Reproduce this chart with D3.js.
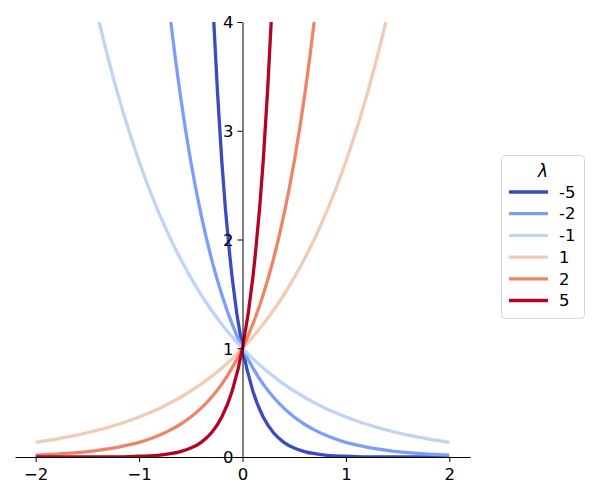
<!DOCTYPE html>
<html>
<head>
<meta charset="utf-8">
<script src="https://cdn.jsdelivr.net/npm/d3@7"></script>
<style>
  body { margin: 0; background: #fff; }
  text { font-family: "DejaVu Sans", sans-serif; }
</style>
</head>
<body>
<div id="chart"></div>
<script>
// sample x positions
var xs = [-2.0, -1.9, -1.8, -1.7, -1.6, -1.5, -1.4, -1.3, -1.2, -1.1,
          -1.0, -0.9, -0.8, -0.7, -0.6, -0.5, -0.4, -0.3, -0.2, -0.1,
           0.0,  0.1,  0.2,  0.3,  0.4,  0.5,  0.6,  0.7,  0.8,  0.9,
           1.0,  1.1,  1.2,  1.3,  1.4,  1.5,  1.6,  1.7,  1.8,  1.9, 2.0];

var lambdas = ["-5", "-2", "-1", "1", "2", "5"];

// values read per curve (null = off the top of the plot)
var yNeg5 = [null, null, null, null, null, null, null, null, null, null,
             null, null, null, null, null, null, 7.389, 4.482, 2.718, 1.649,
             1.000, 0.607, 0.368, 0.223, 0.135, 0.082, 0.050, 0.030, 0.018, 0.011,
             0.007, 0.004, 0.002, 0.0015, 0.001, 0.0006, 0.0003, 0.0002, 0.0001, 0.0001, 0.0];
var yNeg2 = [null, null, null, null, null, null, null, null, null, 9.025,
             7.389, 6.050, 4.953, 4.055, 3.320, 2.718, 2.226, 1.822, 1.492, 1.221,
             1.000, 0.819, 0.670, 0.549, 0.449, 0.368, 0.301, 0.247, 0.202, 0.165,
             0.135, 0.111, 0.091, 0.074, 0.061, 0.050, 0.041, 0.033, 0.027, 0.022, 0.018];
var yNeg1 = [7.389, 6.686, 6.050, 5.474, 4.953, 4.482, 4.055, 3.669, 3.320, 3.004,
             2.718, 2.460, 2.226, 2.014, 1.822, 1.649, 1.492, 1.350, 1.221, 1.105,
             1.000, 0.905, 0.819, 0.741, 0.670, 0.607, 0.549, 0.497, 0.449, 0.407,
             0.368, 0.333, 0.301, 0.273, 0.247, 0.223, 0.202, 0.183, 0.165, 0.150, 0.135];
var yPos1 = [0.135, 0.150, 0.165, 0.183, 0.202, 0.223, 0.247, 0.273, 0.301, 0.333,
             0.368, 0.407, 0.449, 0.497, 0.549, 0.607, 0.670, 0.741, 0.819, 0.905,
             1.000, 1.105, 1.221, 1.350, 1.492, 1.649, 1.822, 2.014, 2.226, 2.460,
             2.718, 3.004, 3.320, 3.669, 4.055, 4.482, 4.953, 5.474, 6.050, 6.686, 7.389];
var yPos2 = [0.018, 0.022, 0.027, 0.033, 0.041, 0.050, 0.061, 0.074, 0.091, 0.111,
             0.135, 0.165, 0.202, 0.247, 0.301, 0.368, 0.449, 0.549, 0.670, 0.819,
             1.000, 1.221, 1.492, 1.822, 2.226, 2.718, 3.320, 4.055, 4.953, 6.050,
             7.389, 9.025, null, null, null, null, null, null, null, null, null];
var yPos5 = [0.0, 0.0001, 0.0001, 0.0002, 0.0003, 0.0006, 0.001, 0.0015, 0.002, 0.004,
             0.007, 0.011, 0.018, 0.030, 0.050, 0.082, 0.135, 0.223, 0.368, 0.607,
             1.000, 1.649, 2.718, 4.482, 7.389, null, null, null, null, null,
             null, null, null, null, null, null, null, null, null, null, null];

var colors = ["#3b4cc0", "#7b9ff9", "#c0d4f5", "#f2cbb7", "#ee8468", "#b40426"];

var xTicks = [-2, -1, 0, 1, 2];
var yTicks = [0, 1, 2, 3, 4];

var svgWidth = 600;
var svgHeight = 500;
var plot = {left: 15, right: 470, top: 22, bottom: 457};

var svg = d3.select("#chart")
  .append("svg")
  .attr("width", svgWidth)
  .attr("height", svgHeight);

var xScale = d3.scaleLinear()
  .domain([-2.2, 2.2])
  .range([plot.left, plot.right]);
var yScale = d3.scaleLinear()
  .domain([0, 4])
  .range([plot.bottom, plot.top]);

svg.append("clipPath")
  .attr("id", "plotClip")
  .append("rect")
  .attr("x", plot.left)
  .attr("y", plot.top)
  .attr("width", plot.right - plot.left)
  .attr("height", plot.bottom - plot.top);

var series = [yNeg5, yNeg2, yNeg1, yPos1, yPos2, yPos5];

var line = d3.line()
  .defined(d => d[1] != null)
  .x(d => xScale(d[0]))
  .y(d => yScale(d[1]))
  .curve(d3.curveMonotoneX);

var lineGroup = svg.append("g").attr("clip-path", "url(#plotClip)");

series.forEach(function(ys, i) {
  var pts = xs.map((x, j) => [x, ys[j]]);
  lineGroup.append("path")
    .datum(pts)
    .attr("fill", "none")
    .attr("stroke", colors[i])
    .attr("stroke-width", 3.3)
    .attr("d", line);
});

// spines through the origin, drawn over the curves
var fmt = d3.format("d");
var xAxis = svg.append("g")
  .attr("transform", `translate(0, ${yScale(0)})`)
  .call(d3.axisBottom(xScale).tickValues(xTicks).tickFormat(fmt)
    .tickSizeInner(5).tickSizeOuter(0).tickPadding(4));
var yAxis = svg.append("g")
  .attr("transform", `translate(${xScale(0)}, 0)`)
  .call(d3.axisLeft(yScale).tickValues(yTicks).tickFormat(fmt)
    .tickSizeInner(5).tickSizeOuter(0).tickPadding(4));

[xAxis, yAxis].forEach(function(ax) {
  ax.selectAll("text").style("font-size", "16.5px").attr("fill", "#000");
  ax.selectAll("line").attr("stroke", "#000").attr("stroke-width", 1);
  ax.select(".domain").attr("stroke", "#000").attr("stroke-width", 1);
});
xAxis.selectAll("text").attr("dy", "0.85em");
yAxis.selectAll("text").attr("dy", "0.35em");

// legend
var legend = svg.append("g").attr("transform", "translate(501, 155)");
legend.append("rect")
  .attr("x", 0.5).attr("y", 0.5)
  .attr("width", 83).attr("height", 163)
  .attr("rx", 4)
  .attr("fill", "#fff")
  .attr("stroke", "#d6d6d6");
legend.append("text")
  .attr("x", 42).attr("y", 22)
  .attr("text-anchor", "middle")
  .style("font-size", "17px")
  .style("font-style", "italic")
  .text("λ");

lambdas.forEach(function(lab, i) {
  var y = 37 + i * 21.7;
  legend.append("line")
    .attr("x1", 8).attr("x2", 47)
    .attr("y1", y).attr("y2", y)
    .attr("stroke", colors[i])
    .attr("stroke-width", 3.3);
  legend.append("text")
    .attr("x", 58).attr("y", y)
    .attr("dy", "0.35em")
    .style("font-size", "16.5px")
    .text(lab);
});
</script>
</body>
</html>
